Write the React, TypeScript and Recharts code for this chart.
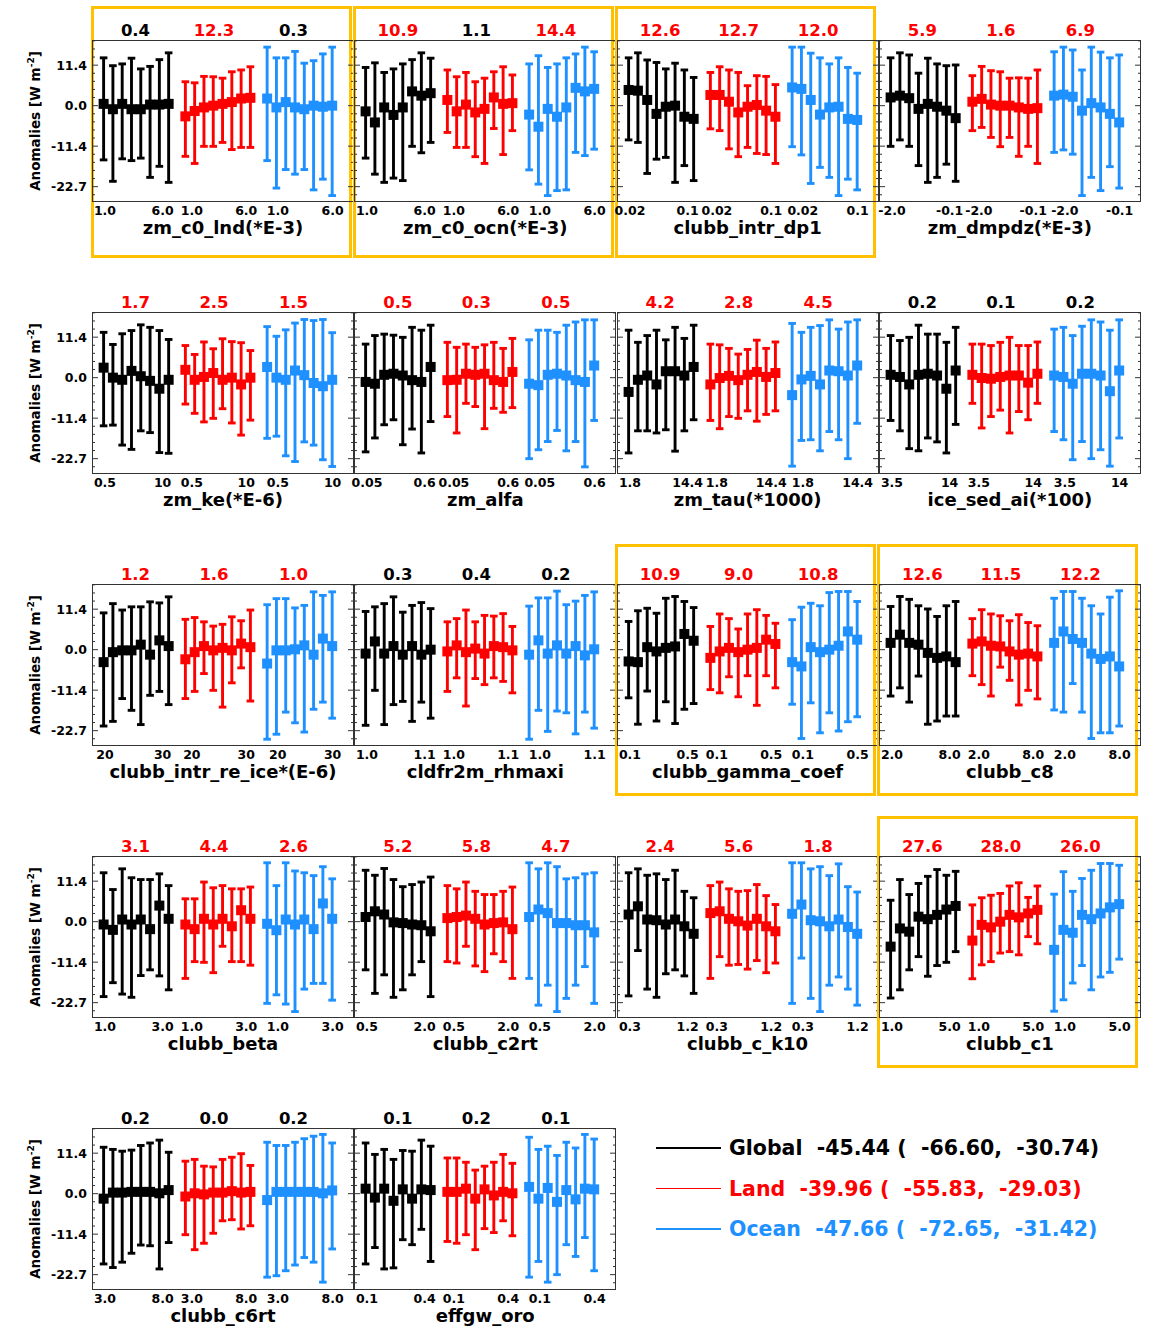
import { ScatterChart, Scatter, XAxis, YAxis, ErrorBar } from 'recharts'

const FONT = '"DejaVu Sans", "Liberation Sans", sans-serif'
const BLACK = '#000000'
const RED = '#ff0000'
const BLUE = '#1e90ff'
const FRAME = '#333333'
const BOX = '#ffc000'
const groupColors = [BLACK, RED, BLUE]

// panel names, in reading order
const panelNames = [
  'zm_c0_lnd(*E-3)', 'zm_c0_ocn(*E-3)', 'clubb_intr_dp1', 'zm_dmpdz(*E-3)',
  'zm_ke(*E-6)', 'zm_alfa', 'zm_tau(*1000)', 'ice_sed_ai(*100)',
  'clubb_intr_re_ice*(E-6)', 'cldfr2m_rhmaxi', 'clubb_gamma_coef', 'clubb_c8',
  'clubb_beta', 'clubb_c2rt', 'clubb_c_k10', 'clubb_c1',
  'clubb_c6rt', 'effgw_oro',
]

// numbers printed above each group (global, land, ocean)
const topNumbers = [
  ['0.4', '12.3', '0.3'], ['10.9', '1.1', '14.4'], ['12.6', '12.7', '12.0'], ['5.9', '1.6', '6.9'],
  ['1.7', '2.5', '1.5'], ['0.5', '0.3', '0.5'], ['4.2', '2.8', '4.5'], ['0.2', '0.1', '0.2'],
  ['1.2', '1.6', '1.0'], ['0.3', '0.4', '0.2'], ['10.9', '9.0', '10.8'], ['12.6', '11.5', '12.2'],
  ['3.1', '4.4', '2.6'], ['5.2', '5.8', '4.7'], ['2.4', '5.6', '1.8'], ['27.6', '28.0', '26.0'],
  ['0.2', '0.0', '0.2'], ['0.1', '0.2', '0.1'],
]
// 1 = printed in red
const topRed = [
  [0, 1, 0], [1, 0, 1], [1, 1, 1], [1, 1, 1],
  [1, 1, 1], [1, 1, 1], [1, 1, 1], [0, 0, 0],
  [1, 1, 1], [0, 0, 0], [1, 1, 1], [1, 1, 1],
  [1, 1, 1], [1, 1, 1], [1, 1, 1], [1, 1, 1],
  [0, 0, 0], [0, 0, 0],
]

// first / last parameter value under each group
const xEndLabels = [
  ['1.0', '6.0'], ['1.0', '6.0'], ['0.02', '0.1'], ['-2.0', '-0.1'],
  ['0.5', '10'], ['0.05', '0.6'], ['1.8', '14.4'], ['3.5', '14'],
  ['20', '30'], ['1.0', '1.1'], ['0.1', '0.5'], ['2.0', '8.0'],
  ['1.0', '3.0'], ['0.5', '2.0'], ['0.3', '1.2'], ['1.0', '5.0'],
  ['3.0', '8.0'], ['0.1', '0.4'],
]

const boxedPanels = [0, 1, 2, 10, 11, 15]

// anomaly means [panel][group][member]
const mean = [
  [[0.5, -1, 0.5, -1, -1, 0.3, 0.3, 0.5], [-3, -1.5, -0.5, 0, 0.5, 1, 2, 2.2], [2, -0.5, 1, -0.5, -1, 0, -0.3, 0]],
  [[-1.6, -4.7, -0.5, -2.6, -0.5, 4, 2.8, 3.5], [1.6, -1.6, 0.3, -1.9, -0.9, 2.3, 0.5, 0.7], [-2.5, -5.9, -0.9, -3.1, -0.5, 5, 4, 4.7]],
  [[4.4, 4.2, 1.6, -2.3, -0.3, 0, -3.1, -3.7], [3, 3, 1.1, -1.9, -0.3, 0.2, -1.4, -3.1], [5.1, 4.7, 1.6, -2.5, -0.5, -0.3, -3.7, -4]],
  [[2.3, 2.8, 2.1, -0.9, 0.5, -0.3, -1.4, -3.5], [1.1, 1.9, 0.3, 0, 0, -0.5, -0.9, -0.7], [2.8, 3.1, 2.5, -1.4, 0.7, -0.5, -2.3, -4.7]],
  [[2.8, 0, -0.6, 1.9, 0.4, -0.9, -3.1, -0.6], [2.2, -0.6, 0.2, 1.3, -0.6, 0, -1.9, 0], [3, 0, -0.6, 2, 0.7, -1.5, -2.4, -0.6]],
  [[-1.2, -1.7, 0.8, 1.1, 0.6, -0.7, -1.2, 3], [-0.7, -0.6, 1.1, 0.8, 1.1, -0.7, -1.2, 1.6], [-1.7, -2.1, 0.8, 1.1, 0.6, -0.7, -1.2, 3.4]],
  [[-4, -0.6, 0.6, -1.9, 1.8, 1.8, 0.6, 3], [-1.9, -0.1, 0.5, -0.7, 0.8, 1.6, 0.2, 1.3], [-4.9, -0.5, 0.5, -1.9, 2, 1.8, 0.6, 3.4]],
  [[0.8, 0.2, -1.9, 0.8, 1.1, 0.6, -3.1, 2], [0.8, -0.1, -0.3, 0.2, 0.6, 0.6, -1.4, 1.1], [0.6, 0.2, -1.7, 1.1, 1.1, 0.6, -3.8, 2]],
  [[-3.5, -0.7, -0.2, -0.2, 1.4, -1.4, 2.6, 1], [-2.7, -0.7, 1, -0.2, 0.5, -0.2, 1.7, 0.7], [-3.9, -0.2, -0.2, 0.1, 1.2, -1.4, 3.1, 1]],
  [[-1.1, 2.3, -1.1, 1, -1.4, 1, -1.4, 0], [-0.5, 1.2, -0.7, 0.3, -1.1, 1, 0.7, -0.2], [-1.4, 2.6, -1.1, 1.2, -1.1, 1, -1.6, 0.1]],
  [[-3.3, -3.5, 0.7, -0.5, 0.5, 0.9, 4.4, 2.5], [-2.3, -0.5, 0.5, -0.7, 0, 0.5, 2.8, 1.6], [-3.5, -4.7, 0.7, -0.7, 0, 1.1, 5.1, 2.8]],
  [[1.9, 4.2, 1.9, 1.4, -0.9, -2.3, -1.9, -3.5], [1.7, 2.3, 1.1, 0.9, -0.5, -1.4, -1.1, -1.9], [1.9, 5.1, 3, 1.9, -1.1, -2.6, -1.9, -4.7]],
  [[-0.8, -2.3, 0.6, -0.8, 0.6, -2.1, 4.5, 0.8], [-0.8, -2.1, 0.8, -0.8, 0.8, -1.3, 3.2, 0.8], [-0.6, -2.4, 0.6, -0.8, 0.6, -2.1, 5.1, 0.8]],
  [[1.3, 2.9, 2, -0.2, -0.4, -0.8, -1, -2.7], [1, 1.3, 1.7, 0.8, -0.8, -0.4, -0.2, -2.1], [1.3, 3.4, 2.4, -0.4, -0.4, -1, -1, -3]],
  [[2, 4.3, 0.6, 0.4, -0.8, 0.6, -1.3, -3.4], [2.4, 2.9, 0.8, 0.1, -1.1, 0.8, -1.3, -2.7], [2.2, 4.8, 0.4, 0.1, -1.3, 0.6, -1.5, -3.4]],
  [[-7, -1.9, -2.8, 1.4, 0.7, 1.9, 3.4, 4.4], [-5.3, -0.9, -1.6, 0, 1.9, 1.2, 2.3, 3.3], [-7.9, -2.3, -3.1, 1.9, 0.7, 2.3, 4, 4.9]],
  [[-1.4, 0.3, 0.3, 0.5, 0.5, 0.5, 0.1, 1], [-0.8, 0.1, -0.2, 0.3, 0.3, 0.7, 0.3, 0.5], [-1.8, 0.5, 0.5, 0.5, 0.5, 0.5, 0.1, 0.9]],
  [[1.4, -1.1, 1.4, -2, 1.2, -1.4, 1.2, 1], [0.5, 0.5, 1.4, -1.4, 1.2, -0.5, 0.5, 0.1], [1.9, -1.4, 1.6, -2.3, 1, -1.6, 1.4, 1.2]],
]

// upper ends of the error bars
const upper = [
  [[13.4, 11.2, 11.7, 13.3, 10.3, 11, 12.9, 14.8], [6.7, 6.4, 8.2, 8.1, 7.7, 9.5, 10, 10.9], [16.4, 13.4, 13.4, 15.2, 11.9, 12.6, 14.5, 16.4]],
  [[10.7, 12, 9.3, 10.3, 11.7, 12.9, 14.8, 13.3], [10, 8.1, 9.3, 6.7, 7.7, 9.5, 10.9, 8.6], [11.7, 14, 10.7, 11.7, 13.4, 14.5, 16.4, 15.1]],
  [[13.4, 14.8, 12.8, 12.1, 10.3, 11.9, 10, 7.9], [9.3, 10.9, 10, 9.3, 5.6, 8.4, 8.2, 5.9], [16.4, 16.4, 14.7, 13.4, 11.7, 13.4, 10.7, 9.1]],
  [[13.4, 14.8, 14.2, 9.1, 13.3, 11.7, 11.2, 11.4], [8.4, 11, 9.8, 9.5, 7.7, 7.8, 7.7, 10], [15.1, 16.4, 15.6, 10, 16.4, 15, 13.4, 14.2]],
  [[12.7, 9.3, 12.3, 13.2, 14.8, 14.1, 13.2, 10.7], [9, 6.5, 10, 8.1, 10.9, 10.1, 9.8, 7.6], [14.3, 11.6, 13.4, 15.3, 16.3, 16, 16.3, 12.6]],
  [[9.4, 11.8, 12.2, 11.9, 11.3, 14.1, 13.3, 14.7], [9.9, 8.5, 9.4, 8.5, 9.2, 9.9, 8.2, 11], [10.6, 13.3, 13.3, 12.7, 14.7, 15.6, 16.2, 16.2]],
  [[13.3, 9.9, 11.8, 13.3, 10.6, 14.1, 11, 14.7], [9.4, 9.2, 8.2, 6.6, 7.9, 10.5, 8.2, 10], [15.2, 12.7, 14.1, 14.6, 16.2, 13.6, 15.6, 16.2]],
  [[11.8, 10.4, 11.3, 14.7, 12.2, 12.2, 9.9, 14.1], [9.4, 9.4, 9, 9.9, 11.3, 9, 9, 10], [13.6, 14.1, 11.8, 14.4, 16.2, 15.6, 13.3, 16.2]],
  [[10.3, 12.9, 11.1, 12, 12, 13.4, 13.1, 14.8], [8.5, 9, 7.8, 6.6, 7.1, 9.2, 8.1, 11.1], [12.6, 14.3, 14.3, 11.7, 12.4, 16.2, 15.2, 16.2]],
  [[10.7, 12, 12.9, 14.8, 10.5, 12.4, 13.2, 11.5], [7.8, 8.7, 11.1, 7.8, 9.6, 9.4, 10.1, 6.5], [12.2, 14.5, 14.5, 16.4, 12.6, 13.6, 15.2, 16.2]],
  [[7.9, 10.9, 11.6, 10.2, 14.4, 14.9, 13.5, 11.8], [6.5, 10, 8.7, 5.8, 10, 11.2, 9.6, 7.4], [8.4, 11.9, 13, 12.3, 16, 16.3, 16.3, 13.5]],
  [[12.1, 14.9, 14.1, 12.3, 11.4, 9.3, 12.3, 13.5], [8.7, 11.2, 10, 9.5, 8.1, 9.8, 7.6, 6.7], [14.4, 16.3, 16.3, 14.4, 12.3, 10, 14.7, 16.5]],
  [[13.7, 9, 14.8, 12.3, 11.8, 11.8, 13.4, 10.1], [6.4, 6.4, 11.1, 9.5, 10.1, 9.2, 9.2, 9.7], [16.5, 10.1, 16.5, 14.2, 13.7, 12.9, 15.4, 12]],
  [[14.4, 13, 14.9, 11.8, 9.8, 10.4, 11.1, 12.5], [10.1, 9.2, 11.1, 8.5, 7.6, 7.6, 8.5, 9.7], [16.5, 14.8, 16.5, 15.4, 12, 12.3, 13.4, 13.7]],
  [[13.7, 14.8, 13, 13.4, 11.8, 14.4, 8.5, 6.7], [10.1, 11.1, 9.2, 8.5, 8.7, 10.4, 7.3, 4.8], [16.5, 16.5, 14.8, 15.4, 12.9, 16.2, 9.8, 8.3]],
  [[6, 11.8, 7.6, 10.7, 12.7, 14.6, 13, 14.1], [4.7, 6.7, 7.4, 7.9, 10, 10.9, 6.8, 10], [7.7, 14, 8.5, 12.1, 14.4, 16.3, 16.3, 15.8]],
  [[13, 12.4, 11.9, 12.2, 13.5, 14.2, 15, 11.6], [9.1, 9.6, 7.7, 7.5, 9.6, 10.2, 11.2, 7.9], [14.4, 13.5, 13.5, 14.4, 15.4, 16.1, 16.6, 14.2]],
  [[14.2, 11, 12.4, 9.6, 12.1, 11.9, 15, 13.3], [10, 10, 8.8, 6.6, 7.7, 8.8, 11, 8.5], [15.8, 12.4, 13.3, 10.7, 14.4, 12.8, 16.6, 15.3]],
]

// lower ends of the error bars
const lower = [
  [[-15.2, -21.2, -14.9, -15.4, -14.7, -20.1, -17, -21.5], [-14.2, -16.2, -11.4, -11.4, -10.3, -12.3, -11.7, -11.7], [-15.4, -23.1, -17.9, -19.2, -17.9, -23.6, -20.6, -25.2]],
  [[-14.7, -19.2, -21.5, -20.3, -21, -11.4, -13.2, -10.3], [-7.5, -11.7, -11.7, -14.3, -16.2, -6.4, -13.7, -7], [-18, -22, -25.2, -23.8, -23.6, -13.1, -14, -12.2]],
  [[-9.6, -10.3, -19, -15, -14.5, -21.5, -16.8, -21], [-6.5, -7, -12.1, -14.3, -11.7, -13.4, -13.7, -16.2], [-11.5, -13.8, -21.8, -17.3, -20.1, -25.2, -20.6, -23.6]],
  [[-11.4, -9.6, -11.4, -16.8, -21.5, -20.1, -16.4, -21.2], [-7, -6.1, -8.9, -11.5, -8.9, -14.2, -11.4, -16.2], [-13.1, -12.4, -13.6, -25.2, -20.1, -23.8, -17.1, -23.1]],
  [[-13.5, -13.3, -18.9, -20.1, -14.9, -15.4, -21, -21.2], [-7.4, -10, -12.4, -11.4, -8.7, -12.7, -16.1, -11.9], [-17, -16.4, -21.9, -23.5, -18, -18.9, -23, -24.9]],
  [[-20.8, -16.9, -13.2, -11.8, -18.8, -14.4, -21.1, -12.3], [-10.9, -15.5, -7.2, -8.1, -14.3, -8.6, -9.7, -8.4], [-22.7, -20.2, -17.9, -14.8, -20.5, -17.9, -25, -12]],
  [[-21.1, -14.9, -14.9, -15.5, -14.6, -20.6, -14.9, -11.8], [-12, -14.3, -10.9, -11.4, -9.3, -12.2, -10.3, -9.3], [-24.8, -17.6, -17.4, -20.5, -15.1, -17.4, -22.7, -12.8]],
  [[-12, -14.9, -19.9, -20.5, -16.9, -18, -21.1, -13.1], [-7.2, -14.1, -10.9, -9.1, -15.5, -9.5, -11.8, -7.2], [-15.1, -17.4, -23, -17.9, -22.7, -20.2, -24.8, -16.9]],
  [[-21.4, -20.1, -13.7, -17, -21, -12.8, -11.7, -15.4], [-13.7, -11.7, -6.7, -11.4, -16.1, -9.3, -5.1, -14.4], [-25.1, -23.7, -17.5, -20.5, -23.1, -16.7, -14.7, -19.2]],
  [[-21.2, -11.4, -21, -15.4, -14.5, -20.1, -14.7, -19.2], [-11.7, -7.9, -15.8, -8.1, -9.8, -7.9, -8.9, -12.1], [-25.1, -17, -22.9, -17.2, -17.7, -23.6, -17.5, -22]],
  [[-13.5, -20.9, -11.6, -20, -14.6, -20.7, -16.7, -15.1], [-11.2, -12.1, -7.6, -13.2, -7.3, -15.6, -7.3, -10.7], [-15.3, -24.9, -14.9, -23.3, -17.7, -22.8, -20.2, -18.8]],
  [[-13, -10.7, -14.7, -7.4, -20.9, -20, -18.6, -18.6], [-7.3, -9.8, -13, -4.9, -8.6, -15.5, -11.4, -13.8], [-16.9, -17.5, -9.5, -17.5, -24.9, -23.3, -23.3, -21.4]],
  [[-21, -17.1, -20.3, -21.2, -15.1, -13.5, -15.2, -19.1], [-15.9, -11.2, -11.4, -14.3, -6.9, -11.2, -11.2, -12.2], [-22.9, -20.5, -23.1, -25.2, -18.9, -17.3, -17.3, -22]],
  [[-13.5, -20.1, -14.9, -21.2, -19.1, -14.9, -11.2, -21], [-11.2, -11.6, -6.9, -12.4, -14, -9, -11.2, -15.9], [-15.9, -23.4, -17.8, -25.2, -21.5, -17.8, -12.6, -22.9]],
  [[-20.8, -8.1, -18.9, -21.2, -14.6, -13.5, -15.2, -20.1], [-15.9, -9.8, -12.2, -12, -13.3, -10.9, -14.3, -11.6], [-22.9, -10.2, -21.5, -25.2, -17.8, -15.5, -18.9, -23.4]],
  [[-21.4, -19.1, -13.5, -9.8, -15.3, -12.3, -11.4, -8.4], [-16, -12.1, -11.2, -8.8, -8.4, -9.3, -4.2, -6.2], [-25.1, -21.9, -17.2, -12.3, -19.1, -15.5, -14.2, -10.5]],
  [[-19.7, -20.7, -19.2, -16.7, -14.4, -14.6, -21.1, -13.7], [-11.5, -15.7, -13.9, -11.1, -7.6, -7.3, -9.9, -9], [-23.4, -23, -21.6, -20, -17.9, -19.2, -24.8, -15.5]],
  [[-19.7, -15.1, -21.1, -20.8, -12.9, -14.3, -10, -19], [-13.4, -13.9, -11.5, -15.7, -9.8, -10.9, -7.6, -11.8], [-23.4, -19, -24.8, -22.7, -14.3, -17.6, -12.3, -21.6]],
]

const yTickValues = [-22.7, -11.35, 0, 11.35]
const yTickLabels = ['-22.7', '-11.4', '0.0', '11.4']

const legendNames = ['Global', 'Land', 'Ocean']
const legendMeans = ['-45.44', '-39.96', '-47.66']
const legendLow = ['-66.60', '-55.83', '-72.65']
const legendHigh = ['-30.74', '-29.03', '-31.42']

// layout
const PLOT_W = 262
const PLOT_H = 162
const COL_X = [92, 354.3, 616.6, 878.9]
const ROW_Y = [39.5, 311.5, 583.5, 855.5, 1127.5]
const AX_W = 60
const R_W = 10
const X_H = 24
const X_DOMAIN = [0, 28.2]
const Y_DOMAIN = [-27, 18.4]
const GROUP_X0 = [1.25, 10.05, 18.85]
const X_LABEL_POS = [1.4, 7.6, 10.75, 16.6, 20.0, 25.9]
const TITLE_X = [43.5, 122, 201.5]

const MINOR = 11.35 / 5
const yTicks: number[] = []
for (let k = -11; k <= 8; k++) yTicks.push(+(k * MINOR).toFixed(3))

function majorIndex(v: number) {
  return yTickValues.findIndex(t => Math.abs(t - v) < 0.01)
}

function LeftTick(props: any) {
  const { x, y, payload, showLabel } = props
  const mi = majorIndex(payload.value)
  const len = mi >= 0 ? 6 : 3
  return (
    <g>
      <line x1={x} x2={x + len} y1={y} y2={y} stroke={FRAME} strokeWidth={1} />
      {showLabel && mi >= 0 && (
        <text x={x - 5} y={y} dy="0.36em" textAnchor="end" fontSize={12.5} fontWeight="bold" fontFamily={FONT} fill="#000">
          {yTickLabels[mi]}
        </text>
      )}
    </g>
  )
}

function RightTick(props: any) {
  const { x, y, payload } = props
  const len = majorIndex(payload.value) >= 0 ? 6 : 3
  return <line x1={x} x2={x - len} y1={y} y2={y} stroke={FRAME} strokeWidth={1} />
}

function Panel({ p }: { p: number }) {
  const col = p % 4
  const row = Math.floor(p / 4)
  const left = COL_X[col]
  const top = ROW_Y[row]
  const series = [0, 1, 2].map(g =>
    mean[p][g].map((m, i) => ({
      x: GROUP_X0[g] + i,
      y: m,
      err: [m - lower[p][g][i], upper[p][g][i] - m],
    }))
  )
  const boxed = boxedPanels.includes(p)

  return (
    <>
      {boxed && (
        <div style={{
          position: 'absolute', left: left - 1.5, top: Math.max(5.5, top - 40), width: 261, height: 252,
          border: `3px solid ${BOX}`, boxSizing: 'border-box',
        }} />
      )}
      <div style={{
        position: 'absolute', left, top, width: PLOT_W, height: PLOT_H,
        border: `1px solid ${FRAME}`, boxSizing: 'border-box',
      }} />
      <div style={{ position: 'absolute', left: left - AX_W, top }}>
        <ScatterChart width={AX_W + PLOT_W + R_W} height={PLOT_H + X_H} margin={{ top: 0, right: 0, bottom: 0, left: 0 }}>
          <XAxis type="number" dataKey="x" domain={X_DOMAIN} ticks={X_LABEL_POS} interval={0}
            allowDataOverflow axisLine={false} tickLine={false} tickSize={0} tickMargin={4} height={X_H}
            tickFormatter={(_v: number, i: number) => xEndLabels[p][i % 2]}
            tick={{ fontSize: 12.5, fontWeight: 'bold', fill: '#000', fontFamily: FONT }} />
          <YAxis yAxisId="l" type="number" dataKey="y" domain={Y_DOMAIN} ticks={yTicks} interval={0}
            allowDataOverflow width={AX_W} axisLine={false} tickLine={false} tickSize={0} tickMargin={0}
            tick={(tp: any) => <LeftTick {...tp} showLabel={col === 0} />} />
          <YAxis yAxisId="r" orientation="right" type="number" dataKey="y" domain={Y_DOMAIN} ticks={yTicks} interval={0}
            allowDataOverflow width={R_W} axisLine={false} tickLine={false} tickSize={0} tickMargin={0}
            tick={(tp: any) => <RightTick {...tp} />} />
          {series.map((d, g) => (
            <Scatter key={g} yAxisId="l" data={d} fill={groupColors[g]} isAnimationActive={false}
              shape={(sp: any) => <rect x={sp.cx - 5} y={sp.cy - 5} width={10} height={10} fill={groupColors[g]} />}>
              <ErrorBar dataKey="err" direction="y" width={3.8} strokeWidth={2.9} stroke={groupColors[g]} isAnimationActive={false} />
            </Scatter>
          ))}
        </ScatterChart>
      </div>
      {topNumbers[p].map((t, g) => (
        <div key={g} style={{
          position: 'absolute', left: left + TITLE_X[g] - 40, top: top - 19, width: 80, height: 19,
          lineHeight: '19px', textAlign: 'center', fontSize: 16.5, fontWeight: 'bold',
          color: topRed[p][g] ? RED : BLACK,
        }}>{t}</div>
      ))}
      <div style={{
        position: 'absolute', left, top: top + PLOT_H + 15, width: PLOT_W, height: 21,
        lineHeight: '21px', textAlign: 'center', fontSize: 18, fontWeight: 'bold', whiteSpace: 'nowrap',
      }}>{panelNames[p]}</div>
      {col === 0 && (
        <div style={{
          position: 'absolute', left: 35 - 100, top: top + PLOT_H / 2 - 9, width: 200, height: 18,
          lineHeight: '18px', textAlign: 'center', fontSize: 13.5, fontWeight: 'bold',
          transform: 'rotate(-90deg)', whiteSpace: 'nowrap',
        }}>Anomalies [W m<sup style={{ fontSize: 9, verticalAlign: 'top', lineHeight: '10px' }}>-2</sup>]</div>
      )}
    </>
  )
}

export default function App() {
  return (
    <div style={{
      position: 'absolute', left: 0, top: 0, width: 1153, height: 1327, background: '#fff',
      overflow: 'hidden', fontFamily: FONT, color: '#000',
    }}>
      {panelNames.map((_n, p) => <Panel key={p} p={p} />)}
      {legendNames.map((name, i) => {
        const y = 1148 + i * 40.5
        return (
          <div key={name}>
            <div style={{ position: 'absolute', left: 656, top: y - 0.75, width: 65, height: 1.5, background: groupColors[i] }} />
            <div style={{
              position: 'absolute', left: 729, top: y - 14, height: 28, lineHeight: '28px',
              fontSize: 20.5, fontWeight: 'bold', whiteSpace: 'pre', color: groupColors[i],
            }}>{`${name}  ${legendMeans[i]} (  ${legendLow[i]},  ${legendHigh[i]})`}</div>
          </div>
        )
      })}
    </div>
  )
}
